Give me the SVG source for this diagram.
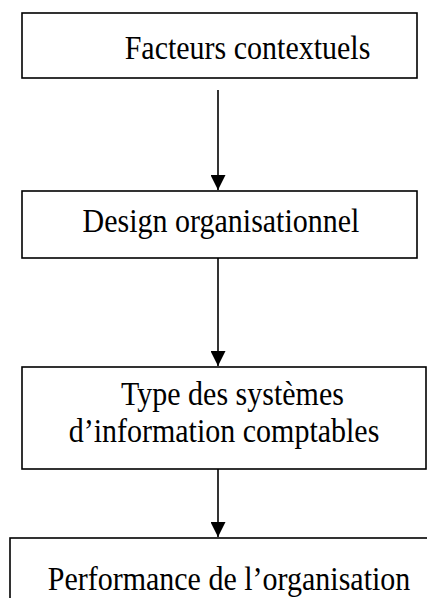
<svg xmlns="http://www.w3.org/2000/svg" width="427" height="598" viewBox="0 0 427 598">
<defs>
<style>
.box{fill:#fff;stroke:#000;stroke-width:1.6}
.lbl{font-family:"Liberation Serif","Times New Roman",serif;font-size:30px;fill:#000;text-anchor:middle}
.con{stroke:#000;stroke-width:1.6;fill:none}
</style>
<marker id="ah" markerUnits="userSpaceOnUse" markerWidth="16" markerHeight="15" refX="16" refY="8" orient="auto" viewBox="0 0 16 16">
<path d="M0,0 L16,8 L0,16 Z" fill="#000"/>
</marker>
</defs>
<rect width="427" height="598" fill="#fff"/>
<g id="connectors">
<line class="con" x1="218" y1="90" x2="218" y2="190" marker-end="url(#ah)"/>
<line class="con" x1="218" y1="258" x2="218" y2="366" marker-end="url(#ah)"/>
<line class="con" x1="218" y1="469" x2="218" y2="537" marker-end="url(#ah)"/>
</g>
<g id="n1">
<rect class="box" x="22" y="13" width="395" height="65"/>
<text class="lbl" transform="translate(247.5,59) scale(1,1.12)">Facteurs contextuels</text>
</g>
<g id="n2">
<rect class="box" x="22" y="191" width="395" height="67"/>
<text class="lbl" transform="translate(221,232) scale(1,1.12)">Design organisationnel</text>
</g>
<g id="n3">
<rect class="box" x="22" y="367" width="404" height="102"/>
<text class="lbl" transform="translate(232.5,405) scale(1,1.12)">Type des systèmes</text>
<text class="lbl" transform="translate(224,442) scale(1,1.12)">d’information comptables</text>
</g>
<g id="n4">
<rect class="box" x="10" y="538" width="440" height="80"/>
<text class="lbl" transform="translate(229,590) scale(1,1.12)">Performance de l’organisation</text>
</g>
</svg>
